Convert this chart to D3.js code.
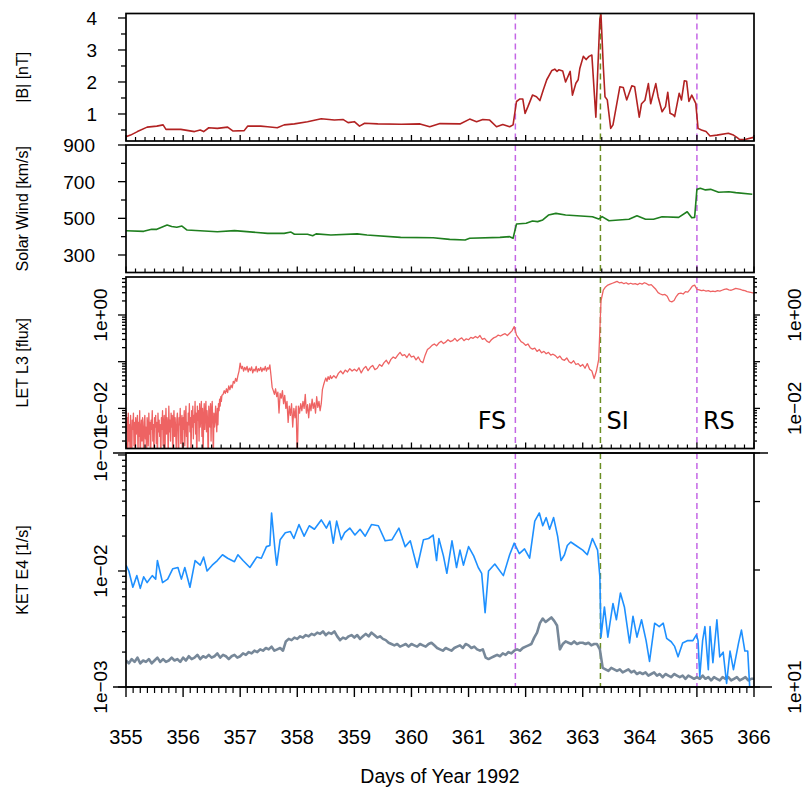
<!DOCTYPE html>
<html><head><meta charset="utf-8">
<script src="https://cdn.jsdelivr.net/npm/d3@7"></script>
<style>body{margin:0;background:#fff}svg{display:block}</style>
</head><body>
<svg id="c" width="809" height="789"></svg>
<script>
// ---------------- DATA ----------------
const dayTicks = [355,356,357,358,359,360,361,362,363,364,365,366];
const xLabel = "Days of Year 1992";
const panelTitles = ["|B| [nT]", "Solar Wind [km/s]", "LET L3 [flux]", "KET E4 [1/s]"];
const eventNames = ["FS","SI","RS"];
const eventDays = [361.82, 363.31, 365.0];
const eventColors = ["#c467e6","#6b8e23","#c467e6"];

// |B| [day, nT]
const magB = [[355.0,0.29],[355.08,0.34],[355.2,0.45],[355.37,0.59],[355.54,0.62],[355.65,0.66],[355.7,0.52],[355.96,0.52],[356.2,0.45],[356.3,0.5],[356.36,0.45],[356.45,0.57],[356.6,0.55],[356.78,0.59],[356.87,0.47],[357.07,0.48],[357.13,0.62],[357.36,0.62],[357.48,0.6],[357.65,0.57],[357.77,0.66],[357.95,0.69],[358.18,0.76],[358.42,0.85],[358.65,0.81],[358.8,0.83],[358.89,0.73],[359.0,0.76],[359.09,0.62],[359.18,0.71],[359.41,0.69],[359.82,0.68],[360.15,0.69],[360.32,0.6],[360.5,0.7],[360.85,0.69],[361.02,0.84],[361.14,0.76],[361.25,0.83],[361.37,0.81],[361.49,0.6],[361.6,0.67],[361.72,0.6],[361.78,0.66],[361.84,1.39],[361.9,1.47],[361.95,1.47],[361.99,1.02],[362.04,1.23],[362.12,1.59],[362.19,1.54],[362.25,1.42],[362.31,1.76],[362.37,2.07],[362.46,2.36],[362.51,2.4],[362.55,2.33],[362.58,2.38],[362.65,2.34],[362.7,2.0],[362.78,2.33],[362.82,1.59],[362.88,1.96],[362.92,2.07],[362.95,2.43],[363.01,2.8],[363.06,2.7],[363.11,2.8],[363.16,2.84],[363.23,0.9],[363.3,3.97],[363.32,4.1],[363.36,2.5],[363.39,1.54],[363.43,1.44],[363.49,0.55],[363.53,0.66],[363.65,1.85],[363.71,1.83],[363.77,1.44],[363.86,1.88],[363.91,1.85],[363.99,0.9],[364.03,1.32],[364.09,1.43],[364.15,1.95],[364.19,1.32],[364.28,1.95],[364.32,1.54],[364.39,1.07],[364.45,1.23],[364.49,1.68],[364.53,1.02],[364.59,0.97],[364.61,0.92],[364.69,1.65],[364.73,1.44],[364.78,2.04],[364.82,2.02],[364.86,1.39],[364.91,1.59],[364.98,1.33],[365.02,0.55],[365.08,0.5],[365.16,0.45],[365.23,0.31],[365.35,0.34],[365.55,0.4],[365.64,0.34],[365.7,0.27],[365.75,0.2],[365.84,0.2],[365.99,0.27]];

// Solar wind speed [day, km/s]
const solarWind = [[355.0,432],[355.31,429],[355.45,440],[355.54,440],[355.72,464],[355.8,455],[355.89,451],[355.98,458],[356.07,436],[356.6,427],[356.9,433],[357.48,418],[357.77,418],[357.89,425],[357.95,413],[358.18,413],[358.27,405],[358.33,415],[358.59,409],[359.05,415],[359.22,409],[359.81,396],[360.38,394],[360.67,385],[360.94,382],[361.02,391],[361.55,396],[361.72,400],[361.78,391],[361.84,469],[362.01,473],[362.12,485],[362.21,482],[362.3,491],[362.4,518],[362.53,527],[362.7,518],[363.17,509],[363.28,496],[363.34,509],[363.46,487],[363.63,491],[363.81,495],[363.95,514],[364.1,495],[364.24,495],[364.39,509],[364.68,505],[364.83,536],[364.91,503],[364.96,505],[365.0,658],[365.06,664],[365.15,655],[365.24,658],[365.38,642],[365.56,645],[365.68,640],[365.97,631]];

// LET L3 flux, log10 values in three evenly sampled segments
const letSegAStart = 355.00, letSegAStep = 0.01;
const letSegA = [
-2.05,-2.5,-2.2,-3.3,-2.1,-2.7,-2.35,-2.9,-2.15,-2.6,
-3.2,-2.25,-2.45,-2.1,-2.8,-2.3,-3.3,-2.2,-2.55,-2.4,
-2.15,-2.95,-2.3,-2.6,-2.05,-3.3,-2.45,-2.25,-2.7,-2.2,
-2.5,-3.1,-2.3,-2.15,-2.65,-2.4,-3.3,-2.2,-2.35,-2.8,
-2.1,-2.55,-2.3,-3.3,-2.25,-2.45,-2.05,-2.7,-2.35,-3.0,
-2.2,-2.4,-2.15,-2.75,-2.3,-3.3,-2.1,-2.5,-2.25,-2.6,
-2.35,-3.2,-2.2,-2.45,-2.05,-2.8,-2.3,-2.15,-3.3,-2.4,
-2.0,-2.55,-2.2,-2.35,-3.1,-1.95,-2.5,-2.25,-2.7,-2.1,
-2.4,-2.15,-3.3,-2.3,-2.05,-2.6,-2.2,-2.45,-2.9,-2.25,
-2.1,-2.5,-3.3,-2.2,-2.35,-2.0,-2.75,-2.3,-2.15,-3.2,
-2.2,-2.45,-2.05,-2.8,-2.25,-1.95,-2.6,-2.3,-3.3,-2.1,
-2.35,-1.9,-2.5,-2.2,-3.0,-2.05,-2.4,-1.95,-2.65,-2.15,
-2.3,-1.85,-2.55,-2.1,-3.3,-1.95,-2.25,-2.05,-2.7,-1.9,
-2.4,-2.15,-1.85,-2.6,-2.0,-3.2,-2.2,-1.9,-2.45,-2.1,
-1.85,-2.5,-2.05,-2.3,-3.3,-1.95,-2.15,-2.4,-1.9,-2.7,
-2.05,-1.85,-2.35,-3.1,-2.1,-2.4,-2.25,-1.95,-2.3,-2.5,
-2.0,-2.35,-1.9,-2.05,-1.8,-1.95,-1.75,-1.85,-1.72];
const letSegBStart = 356.70, letSegBStep = 0.02;
const letSegB = [
-1.7,-1.62,-1.68,-1.58,-1.66,-1.52,-1.6,-1.5,-1.56,-1.42,
-1.46,-1.36,-1.42,-1.3,-1.2,-1.03,-1.15,-1.1,-1.2,-1.12,
-1.18,-1.1,-1.22,-1.14,-1.19,-1.11,-1.24,-1.16,-1.2,-1.1,
-1.22,-1.15,-1.19,-1.12,-1.21,-1.14,-1.18,-1.1,-1.2,-1.13,
-1.16,-1.07,-1.3,-1.55,-1.62,-1.7,-1.58,-1.75,-1.65,-2.1,
-1.68,-1.78,-1.62,-1.9,-1.72,-2.0,-1.85,-2.3,-1.95,-2.15,
-1.9,-2.4,-2.0,-2.2,-1.95,-3.1,-1.95,-2.1,-1.9,-2.05,
-1.85,-2.0,-1.7,-2.1,-1.92,-2.2,-1.9,-2.05,-1.8,-2.0,
-1.88,-2.1,-1.75,-1.98,-1.85,-2.05,-1.9,-1.6,-1.5,-1.42,
-1.35,-1.42,-1.32,-1.38,-1.3,-1.36];
const letSegCStart = 358.64, letSegCStep = 0.04;
const letSegC = [
-1.3,-1.35,-1.25,-1.2,-1.26,-1.18,-1.22,-1.15,-1.2,
-1.16,-1.2,-1.13,-1.24,-1.15,-1.1,-1.19,-1.12,-1.08,-1.17,-1.14,-1.06,-1.1,-1.02,-0.97,-1.05,-0.95,-0.9,-0.93,-0.86,-0.8,-0.87,-0.85,-0.91,-0.83,
-0.9,-0.88,-0.96,-0.9,-0.99,-1.02,-0.86,-0.74,-0.7,-0.65,-0.62,-0.66,-0.6,-0.56,-0.61,-0.58,-0.53,-0.57,-0.55,-0.5,-0.56,-0.52,-0.49,-0.55,-0.51,
-0.53,-0.48,-0.5,-0.46,-0.49,-0.44,-0.52,-0.5,-0.56,-0.59,-0.53,-0.49,-0.47,-0.43,-0.45,-0.42,-0.4,-0.44,-0.39,-0.34,-0.25,-0.43,-0.5,-0.57,-0.6,
-0.65,-0.62,-0.7,-0.73,-0.71,-0.78,-0.74,-0.81,-0.78,-0.83,-0.8,-0.86,-0.84,-0.87,-0.92,-0.88,-0.95,-0.97,-0.92,-1.0,-1.03,-0.98,-1.06,-1.04,-1.1,
-1.06,-1.14,-1.04,-1.16,-1.2,-1.36,-1.2,-0.95,0.3,0.53,0.6,0.64,0.66,0.68,0.7,0.72,0.69,0.7,0.67,0.69,0.66,0.68,0.66,0.67,0.65,
0.68,0.66,0.69,0.67,0.64,0.65,0.6,0.55,0.48,0.45,0.43,0.44,0.4,0.3,0.28,0.31,0.4,0.46,0.47,0.45,0.5,0.49,0.55,0.62,0.64,
0.55,0.54,0.52,0.53,0.51,0.52,0.5,0.51,0.5,0.52,0.51,0.53,0.55,0.56,0.54,0.53,0.55,0.57,0.56,0.55,0.53,0.52,0.5,0.49,0.48,
0.47];

// KET E4 count rate [day, log10(1/s)]
const ketE4Log = [[355.0,-1.95],[355.05,-2.0],[355.12,-2.14],[355.19,-2.04],[355.25,-2.15],[355.31,-2.05],[355.37,-2.1],[355.46,-2.04],[355.52,-2.07],[355.55,-1.91],[355.64,-2.1],[355.73,-2.07],[355.82,-1.98],[355.91,-1.97],[355.97,-2.07],[356.03,-1.97],[356.12,-2.14],[356.21,-1.91],[356.3,-1.95],[356.36,-1.88],[356.42,-2.0],[356.51,-1.95],[356.6,-1.91],[356.69,-1.86],[356.78,-1.89],[356.9,-1.92],[356.96,-1.86],[357.05,-1.91],[357.17,-1.97],[357.29,-1.88],[357.37,-1.89],[357.46,-1.79],[357.52,-1.78],[357.55,-1.5],[357.61,-1.82],[357.64,-1.95],[357.7,-1.73],[357.79,-1.67],[357.88,-1.66],[357.94,-1.72],[358.03,-1.6],[358.12,-1.7],[358.21,-1.61],[358.3,-1.64],[358.42,-1.56],[358.51,-1.63],[358.57,-1.57],[358.63,-1.76],[358.69,-1.57],[358.77,-1.73],[358.83,-1.67],[358.92,-1.63],[359.01,-1.69],[359.1,-1.64],[359.19,-1.7],[359.3,-1.6],[359.42,-1.61],[359.54,-1.74],[359.66,-1.73],[359.78,-1.63],[359.89,-1.79],[359.98,-1.74],[360.1,-1.97],[360.21,-1.73],[360.3,-1.72],[360.38,-1.69],[360.44,-1.91],[360.48,-1.72],[360.56,-1.87],[360.62,-2.02],[360.71,-1.74],[360.79,-1.97],[360.85,-1.82],[360.91,-1.95],[361.0,-1.79],[361.09,-1.87],[361.17,-1.97],[361.23,-2.02],[361.29,-2.36],[361.35,-2.0],[361.46,-1.94],[361.61,-2.04],[361.72,-1.86],[361.8,-1.76],[361.89,-1.85],[361.98,-1.81],[362.07,-1.89],[362.16,-1.57],[362.24,-1.5],[362.3,-1.61],[362.36,-1.54],[362.42,-1.64],[362.49,-1.54],[362.56,-1.7],[362.62,-1.91],[362.68,-1.86],[362.73,-1.78],[362.79,-1.75],[362.88,-1.78],[363.0,-1.82],[363.08,-1.86],[363.17,-1.72],[363.26,-1.82],[363.3,-2.05],[363.32,-2.57],[363.38,-2.31],[363.44,-2.57],[363.53,-2.28],[363.59,-2.42],[363.66,-2.19],[363.73,-2.31],[363.82,-2.62],[363.88,-2.39],[363.95,-2.57],[364.03,-2.42],[364.11,-2.6],[364.17,-2.78],[364.26,-2.45],[364.34,-2.48],[364.41,-2.45],[364.47,-2.58],[364.55,-2.61],[364.61,-2.65],[364.67,-2.74],[364.75,-2.62],[364.84,-2.6],[364.93,-2.6],[364.99,-2.55],[365.02,-2.6],[365.05,-2.91],[365.1,-2.6],[365.14,-2.48],[365.2,-2.85],[365.23,-2.48],[365.28,-2.79],[365.35,-2.42],[365.4,-2.74],[365.46,-2.7],[365.52,-2.97],[365.58,-2.69],[365.64,-2.85],[365.73,-2.62],[365.78,-2.51],[365.84,-2.69],[365.89,-2.69],[365.93,-3.05],[365.97,-3.1]];

// KET background (right axis), every 0.05 day from day 355
const bgStart = 355, bgStep = 0.05;
const ketBg = [
11.7,11.5,11.8,11.6,11.9,11.5,11.7,11.6,11.8,11.5,11.7,11.9,11.6,11.8,11.6,11.7,11.9,11.7,11.8,11.6,
11.9,11.7,12.0,11.8,11.9,12.1,11.8,12.0,11.9,12.1,11.9,12.0,12.2,11.9,12.1,12.0,11.8,12.0,12.1,11.9,
12.0,12.2,12.1,12.3,12.2,12.4,12.3,12.5,12.4,12.6,12.5,12.7,12.4,12.5,12.6,12.4,13.1,13.3,13.2,13.4,
13.3,13.5,13.4,13.6,13.5,13.7,13.6,13.8,13.7,13.9,13.6,13.8,13.7,13.9,13.5,13.2,13.4,13.3,13.5,13.6,
13.4,13.6,13.3,13.5,13.7,13.5,13.8,13.6,13.4,13.5,13.3,13.2,13.0,12.9,12.8,12.9,12.7,12.8,12.9,12.7,
12.9,12.8,12.7,12.9,12.8,12.7,12.9,13.0,12.8,12.6,12.5,12.4,12.6,12.5,12.4,12.6,12.7,12.8,12.6,12.9,
12.8,12.6,12.7,12.5,12.4,12.5,11.9,11.8,11.9,12.0,12.1,12.0,12.2,12.1,12.3,12.2,12.4,12.5,12.4,12.6,
12.7,12.8,12.9,13.4,13.8,14.6,15.0,14.7,14.9,15.1,14.8,14.4,12.5,12.9,13.1,13.0,12.9,13.1,12.9,13.0,
13.0,12.9,13.0,12.8,12.9,12.9,12.5,11.2,11.1,11.0,11.2,11.1,11.0,11.1,10.9,11.0,11.1,10.9,11.0,10.8,
10.9,10.8,10.9,10.7,10.8,10.9,10.7,10.8,10.6,10.8,10.7,10.6,10.8,10.7,10.6,10.7,10.5,10.7,10.6,10.5,
10.6,10.5,10.7,10.5,10.6,10.4,10.6,10.5,10.4,10.6,10.5,10.6,10.4,10.5,10.6,10.4,10.5,10.6,10.4,10.5,
10.5];

// axis tick values
const bMajor = [1,2,3,4], bMinor = [0.5,1.5,2.5,3.5];
const swMajor = [300,500,700,900], swMinor = [400,600,800];
const letLabels = [1, 0.01], letLabelText = ["1e+00","1e\u221202"];
const ketLabels = [0.1, 0.01, 0.001], ketLabelText = ["1e\u221201","1e\u221202","1e\u221203"];
const bgTicks = [10,20,30,40], bgLabels = [10], bgLabelText = ["1e+01"];
const eventLabelDays = [361.82, 363.31, 365.0];

// ---------------- LAYOUT ----------------
const L = 126, R = 754;
const panels = [{top:13.5,bot:141},{top:145,bot:272.5},{top:277,bot:448.5},{top:453,bot:687}];
const FONT = "'Liberation Sans', Arial, Helvetica, sans-serif";

const x = d3.scaleLinear().domain([355,366]).range([L,R]);
const yB = d3.scaleLinear().domain([0.156,4.14]).range([panels[0].bot,panels[0].top]);
const ySW = d3.scaleLinear().domain([204.5,900]).range([panels[1].bot,panels[1].top]);
const yLET = d3.scaleLog().domain([1.384e-3,6.51]).range([panels[2].bot,panels[2].top]);
const yKET = d3.scaleLog().domain([1e-3,0.104]).range([panels[3].bot,panels[3].top]);
const yBG = d3.scaleLog().domain([10,40]).range([panels[3].bot,panels[3].top]);

const svg = d3.select('#c');
const defs = svg.append('defs');
panels.forEach((p,i)=>{
  defs.append('clipPath').attr('id','clip'+i).append('rect')
    .attr('x',L).attr('y',p.top).attr('width',R-L).attr('height',p.bot-p.top);
});

function logTicks(scale){
  const [a,b] = scale.domain(); const maj=[], min=[];
  for(let e=-5;e<=3;e++){ for(let m=1;m<=9;m++){ const v=m*Math.pow(10,e);
    if(v>=a*0.999 && v<=b*1.001){ (m===1?maj:min).push(v);} } }
  return {maj,min};
}
function yTicks(scale, vals, xPos, len){
  svg.append('g').selectAll('line').data(vals).join('line')
    .attr('x1',xPos).attr('x2',xPos+len).attr('y1',d=>scale(d)).attr('y2',d=>scale(d))
    .attr('stroke','#000').attr('stroke-width',1.3);
}
function xTicksPanel(p){
  const minor=[]; for(let d=355; d<366; d++){ for(let k=1;k<6;k++) minor.push(d+k/6); }
  const g = svg.append('g');
  g.selectAll('line.M').data(dayTicks).join('line').attr('class','M')
    .attr('x1',d=>x(d)).attr('x2',d=>x(d)).attr('y1',p.bot).attr('y2',p.bot-6)
    .attr('stroke','#000').attr('stroke-width',1.3);
  g.selectAll('line.m').data(minor).join('line').attr('class','m')
    .attr('x1',d=>x(d)).attr('x2',d=>x(d)).attr('y1',p.bot).attr('y2',p.bot-4)
    .attr('stroke','#000').attr('stroke-width',1.2);
}
function eventLines(i){
  const p = panels[i];
  svg.append('g').selectAll('line').data(eventDays).join('line')
    .attr('x1',d=>x(d)).attr('x2',d=>x(d)).attr('y1',p.top).attr('y2',p.bot)
    .attr('stroke',(d,j)=>eventColors[j]).attr('stroke-width',1.5).attr('stroke-dasharray','6,4');
}
function drawLine(i, data, ys, color, w){
  svg.append('path').datum(data).attr('clip-path',`url(#clip${i})`)
    .attr('fill','none').attr('stroke',color).attr('stroke-width',w).attr('stroke-linejoin','round')
    .attr('d', d3.line().x(d=>x(d[0])).y(d=>ys(d[1])));
}
function box(p){
  svg.append('rect').attr('x',L).attr('y',p.top).attr('width',R-L).attr('height',p.bot-p.top)
    .attr('fill','none').attr('stroke','#000').attr('stroke-width',1.7);
}
function title(i){
  const p=panels[i], cy=(p.top+p.bot)/2;
  svg.append('text').attr('transform',`translate(28,${cy}) rotate(-90)`).attr('text-anchor','middle')
    .attr('font-family',FONT).attr('font-size',16).text(panelTitles[i]);
}

// Event lines first (under data)
[0,1,2,3].forEach(eventLines);

// Panel 1
drawLine(0, magB, yB, '#b22222', 1.6);
// Panel 2
drawLine(1, solarWind, ySW, '#1f7f1f', 1.6);
// Panel 3
const seg = (arr, s, st) => arr.map((v,i)=>[s+i*st, Math.pow(10,v)]);
const letData = seg(letSegA, letSegAStart, letSegAStep)
  .concat(seg(letSegB, letSegBStart, letSegBStep))
  .concat(seg(letSegC, letSegCStart, letSegCStep));
drawLine(2, letData, yLET, '#ee6363', 1.3);
// Panel 4
const bgData = ketBg.map((v,i)=>[bgStart+i*bgStep, v]);
drawLine(3, bgData, yBG, '#778899', 2.6);
drawLine(3, ketE4Log.map(d=>[d[0], Math.pow(10,d[1])]), yKET, '#1e90ff', 1.6);

// Boxes
panels.forEach(box);
svg.append('line').attr('x1',113).attr('x2',768).attr('y1',panels[3].top).attr('y2',panels[3].top).attr('stroke','#000').attr('stroke-width',1.7);
svg.append('line').attr('x1',113).attr('x2',772).attr('y1',panels[3].bot).attr('y2',panels[3].bot).attr('stroke','#000').attr('stroke-width',1.7);

// Panel 1 y axis
yTicks(yB, bMajor, L, -8); yTicks(yB, bMinor, L, -5);
svg.append('g').selectAll('text').data(bMajor).join('text')
  .attr('x',97).attr('y',d=>yB(d)).attr('dy','0.36em').attr('text-anchor','end')
  .attr('font-family',FONT).attr('font-size',19).text(d=>d);
// Panel 2 y axis
yTicks(ySW, swMajor, L, -8); yTicks(ySW, swMinor, L, -5);
svg.append('g').selectAll('text').data(swMajor).join('text')
  .attr('x',95).attr('y',d=>ySW(d)).attr('dy','0.36em').attr('text-anchor','end')
  .attr('font-family',FONT).attr('font-size',19).text(d=>d);
// Panel 3 y axes (both sides)
const lt = logTicks(yLET);
yTicks(yLET, lt.maj, L, -8); yTicks(yLET, lt.min, L, -4);
yTicks(yLET, lt.maj, R, 6); yTicks(yLET, lt.min, R, 3);
svg.append('g').selectAll('text').data(letLabels).join('text')
  .attr('transform',d=>`translate(107,${yLET(d)}) rotate(-90)`).attr('text-anchor','middle')
  .attr('font-family',FONT).attr('font-size',19).text((d,i)=>letLabelText[i]);
svg.append('g').selectAll('text').data(letLabels).join('text')
  .attr('transform',d=>`translate(801,${yLET(d)}) rotate(-90)`).attr('text-anchor','middle')
  .attr('font-family',FONT).attr('font-size',19).text((d,i)=>letLabelText[i]);
// Panel 4 y axes
const kt = logTicks(yKET);
yTicks(yKET, kt.maj, L, -8); yTicks(yKET, kt.min, L, -4);
svg.append('g').selectAll('text').data(ketLabels).join('text')
  .attr('transform',d=>`translate(107,${yKET(d)}) rotate(-90)`).attr('text-anchor','middle')
  .attr('font-family',FONT).attr('font-size',19).text((d,i)=>ketLabelText[i]);
yTicks(yBG, bgTicks, R, 6);
svg.append('g').selectAll('text').data(bgLabels).join('text')
  .attr('transform',d=>`translate(801,${yBG(d)}) rotate(-90)`).attr('text-anchor','middle')
  .attr('font-family',FONT).attr('font-size',19).text((d,i)=>bgLabelText[i]);

// x ticks inside panels 1-3
[0,1,2].forEach(i=>xTicksPanel(panels[i]));
// bottom x axis
(function(){
  const p = panels[3]; const minor=[];
  for(let d=355; d<366; d++){ for(let k=1;k<8;k++) minor.push(d+k/8); }
  const g = svg.append('g');
  g.selectAll('line.M').data(dayTicks).join('line').attr('class','M')
    .attr('x1',d=>x(d)).attr('x2',d=>x(d)).attr('y1',p.bot).attr('y2',p.bot+10)
    .attr('stroke','#000').attr('stroke-width',1.4);
  g.selectAll('line.m').data(minor).join('line').attr('class','m')
    .attr('x1',d=>x(d)).attr('x2',d=>x(d)).attr('y1',p.bot).attr('y2',p.bot+6)
    .attr('stroke','#000').attr('stroke-width',1.2);
  g.selectAll('text').data(dayTicks).join('text')
    .attr('x',d=>x(d)).attr('y',744).attr('text-anchor','middle')
    .attr('font-family',FONT).attr('font-size',20).text(d=>d);
})();
svg.append('text').attr('x',(L+R)/2).attr('y',783).attr('text-anchor','middle')
  .attr('font-family',FONT).attr('font-size',19.5).text(xLabel);

// panel titles
[0,1,2,3].forEach(title);

// event labels in panel 3
const evLab = svg.append('g').attr('font-family',"'DejaVu Sans', sans-serif").attr('font-size',24);
evLab.selectAll('text').data(eventNames).join('text')
  .attr('x',(d,i)=> i===0 ? x(eventLabelDays[i])-9 : x(eventLabelDays[i])+6)
  .attr('text-anchor',(d,i)=> i===0 ? 'end' : 'start')
  .attr('y',429).text(d=>d);
</script>
</body></html>
